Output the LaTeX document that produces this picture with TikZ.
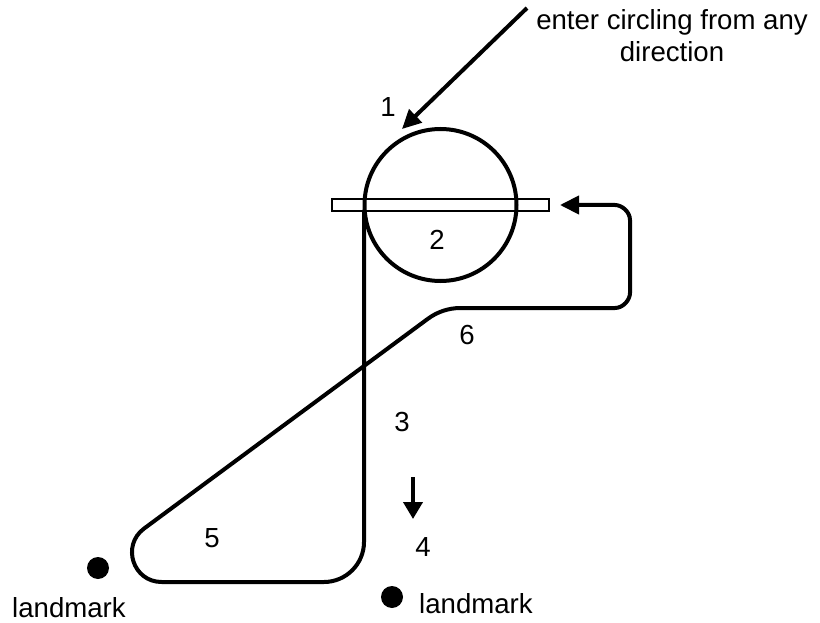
\documentclass[tikz,border=0pt]{standalone}
\usepackage{fontspec}
\setmainfont{Liberation Sans}
\usetikzlibrary{arrows.meta}
\begin{document}
\begin{tikzpicture}[x=1pt,y=-1pt,
  every node/.style={font=\fontsize{27.6}{33}\selectfont},
  route/.style={line width=4pt,line join=round},
  bigtip/.style={-{Triangle[length=19pt,width=18pt]}},
  lbl/.style={inner sep=0pt,anchor=center},
  txt/.style={inner sep=0pt,anchor=base},
  dot/.style={circle,fill=black,inner sep=0pt,minimum size=22pt}]
\useasboundingbox (0,0) rectangle (820,623);
% bar and circle
\node[draw,fill=white,line width=1.2pt,minimum width=217pt,minimum height=12pt,inner sep=0pt] (bar) at (440.5,205) {};
\node[draw,circle,line width=4pt,minimum size=152pt,inner sep=0pt] (circ) at (440.5,205) {};
% route coordinates
\coordinate (p0) at (364,210);
\coordinate (p1) at (364,542);
\coordinate (p2) at (324,582);
\coordinate (p3) at (161.6,582);
\coordinate (p4) at (144,528.6);
\coordinate (p5) at (428,318.7);
\coordinate (p6) at (460.4,308);
\coordinate (p7) at (615,308);
\coordinate (p8) at (630,293);
\coordinate (p9) at (630,220);
\coordinate (p10) at (615,205);
\coordinate (pend) at (560,205);
\draw[route,bigtip] (p0) -- (p1) .. controls (364,564) and (346,582) .. (p2)
  -- (p3) .. controls (133.1,582) and (121.1,545.6) .. (p4)
  -- (p5) .. controls (437.3,311.8) and (448.8,308) .. (p6)
  -- (p7) .. controls (623.3,308) and (630,299.7) .. (p8)
  -- (p9) .. controls (630,211.7) and (621.7,205) .. (p10)
  -- (pend);
% entering arrow
\coordinate (src) at (527,8);
\coordinate (entry) at (402,129);
\draw[route,bigtip] (src) -- (entry);
% down arrow
\coordinate (dtop) at (413,477);
\coordinate (dbot) at (413,519);
\draw[line width=4pt,-{Triangle[length=17pt,width=19pt]}] (dtop) -- (dbot);
% labels
\node[lbl] (l1) at (388,107) {1};
\node[lbl] (l2) at (437,240) {2};
\node[lbl] (l3) at (402,422) {3};
\node[lbl] (l4) at (423,547) {4};
\node[lbl] (l5) at (212,538) {5};
\node[lbl] (l6) at (467,335) {6};
\node[txt] (enter1) at (672,30) {enter circling from any};
\node[txt] (enter2) at (672,62) {direction};
% landmarks
\node[dot] (lm1) at (98,568) {};
\node[dot] (lm2) at (392,597) {};
\node[txt] (t1) at (69,617) {landmark};
\node[txt] (t2) at (476,613) {landmark};
\end{tikzpicture}
\end{document}
